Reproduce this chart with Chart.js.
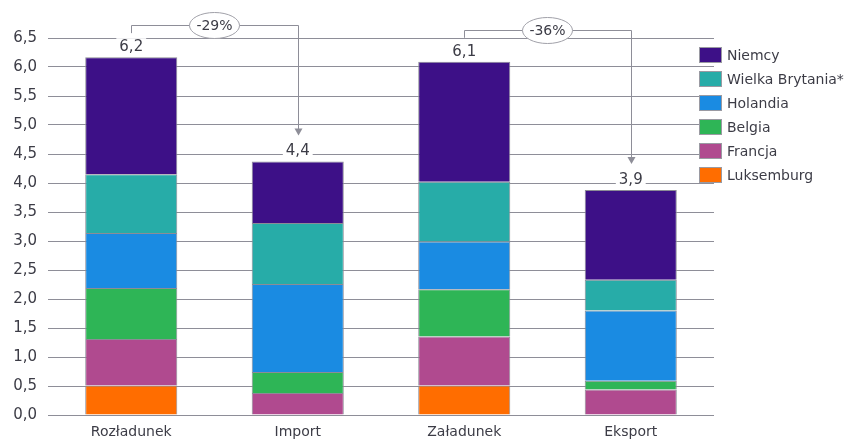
<!DOCTYPE html>
<html>
<head>
<meta charset="utf-8">
<script src="https://cdn.jsdelivr.net/npm/chart.js@4"></script>
<style>
  html, body { margin: 0; padding: 0; background: #fff; }
  #wrap { width: 847px; height: 439px; }
</style>
</head>
<body>
<div id="wrap"><canvas id="dataChart"></canvas></div>
<script>
const categories = ['Rozładunek', 'Import', 'Załadunek', 'Eksport'];
const luksemburg = [0.51, 0, 0.51, 0];
const francja = [0.80, 0.38, 0.845, 0.44];
const belgia = [0.88, 0.36, 0.815, 0.15];
const holandia = [0.95, 1.52, 0.82, 1.21];
const wielkaBrytania = [1.01, 1.05, 1.03, 0.53];
const niemcy = [2.02, 1.06, 2.07, 1.55];
const changeLabels = ['-29%', '-36%'];
const yTicks = [0, 0.5, 1, 1.5, 2, 2.5, 3, 3.5, 4, 4.5, 5, 5.5, 6, 6.5];

const textColor = '#3c3c46';
const lineColor = '#8e8e98';
const font = 'DejaVu Sans';

const totals = categories.map((c, i) =>
    luksemburg[i] + francja[i] + belgia[i] + holandia[i] + wielkaBrytania[i] + niemcy[i]);
const fmt = v => v.toFixed(1).replace('.', ',');

const overlay = {
    id: 'overlay',
    afterDatasetsDraw(chart) {
        const c = chart.ctx, x = chart.scales.x, y = chart.scales.y;
        c.save();
        // total labels
        c.font = '15px ' + font;
        c.textAlign = 'center';
        c.textBaseline = 'middle';
        totals.forEach((t, i) => {
            const px = x.getPixelForValue(i), py = y.getPixelForValue(t) - 11;
            const w = c.measureText(fmt(t)).width + 6;
            c.fillStyle = '#fff';
            c.fillRect(px - w / 2, py - 8, w, 16);
            c.fillStyle = textColor;
            c.fillText(fmt(t), px, py + 1);
        });
        // brackets with change
        [[0, 1], [2, 3]].forEach((pair, k) => {
            const x0 = x.getPixelForValue(pair[0]), x1 = x.getPixelForValue(pair[1]);
            const yA = y.getPixelForValue(totals[pair[0]]);
            const yB = y.getPixelForValue(totals[pair[1]]);
            const top = Math.round(Math.min(yA, yB) - 32) + 0.5;
            const arrowTip = yB - 26;
            c.strokeStyle = lineColor;
            c.lineWidth = 1;
            c.beginPath();
            c.moveTo(Math.round(x0) + 0.5, yA - 24);
            c.lineTo(Math.round(x0) + 0.5, top);
            c.lineTo(Math.round(x1) + 0.5, top);
            c.lineTo(Math.round(x1) + 0.5, arrowTip - 6);
            c.stroke();
            c.fillStyle = lineColor;
            c.beginPath();
            c.moveTo(Math.round(x1) + 0.5 - 4, arrowTip - 7);
            c.lineTo(Math.round(x1) + 0.5 + 4, arrowTip - 7);
            c.lineTo(Math.round(x1) + 0.5, arrowTip);
            c.closePath();
            c.fill();
            const cx = (x0 + x1) / 2;
            c.beginPath();
            c.ellipse(cx, top, 25, 13, 0, 0, Math.PI * 2);
            c.fillStyle = '#fff';
            c.fill();
            c.strokeStyle = '#a0a0a8';
            c.stroke();
            c.fillStyle = textColor;
            c.font = '14px ' + font;
            c.fillText(changeLabels[k], cx, top + 1);
        });
        // legend
        c.textAlign = 'left';
        c.font = '14px ' + font;
        const ds = chart.data.datasets.slice().reverse();
        ds.forEach((d, k) => {
            const by = 47 + k * 24;
            c.fillStyle = d.backgroundColor;
            c.fillRect(699, by, 23, 16);
            c.strokeStyle = '#9a9aa2';
            c.strokeRect(699.5, by + 0.5, 22, 15);
            c.fillStyle = textColor;
            c.fillText(d.label, 727, by + 9);
        });
        c.restore();
    }
};

const mk = (label, data, color) => ({
    label, data, backgroundColor: color,
    borderColor: '#8c8c96', borderWidth: 1,
    barPercentage: 0.553, categoryPercentage: 1
});

new Chart(document.getElementById('dataChart').getContext('2d'), {
    type: 'bar',
    data: {
        labels: categories,
        datasets: [
            mk('Luksemburg', luksemburg, '#ff6d00'),
            mk('Francja', francja, '#b04a8f'),
            mk('Belgia', belgia, '#2eb556'),
            mk('Holandia', holandia, '#1a8be2'),
            mk('Wielka Brytania*', wielkaBrytania, '#27aca8'),
            mk('Niemcy', niemcy, '#3d1087')
        ]
    },
    options: {
        responsive: true,
        maintainAspectRatio: false,
        animation: false,
        layout: { padding: { top: 38, right: 133, left: 0, bottom: 0 } },
        plugins: { legend: { display: false }, tooltip: { enabled: false } },
        scales: {
            x: {
                stacked: true,
                grid: { display: false, drawTicks: false },
                border: { display: false },
                ticks: { color: textColor, font: { family: font, size: 14 }, padding: 9 },
                afterFit: s => { s.height = 24; }
            },
            y: {
                stacked: true,
                min: 0, max: 6.5,
                afterBuildTicks: s => { s.ticks = yTicks.map(v => ({ value: v })); },
                grid: { color: lineColor, lineWidth: 1, drawTicks: false },
                border: { display: false },
                ticks: {
                    color: textColor, font: { family: font, size: 15 }, padding: 11,
                    callback: v => fmt(v)
                },
                afterFit: s => { s.width = 48; }
            }
        }
    },
    plugins: [overlay]
});
</script>
</body>
</html>
